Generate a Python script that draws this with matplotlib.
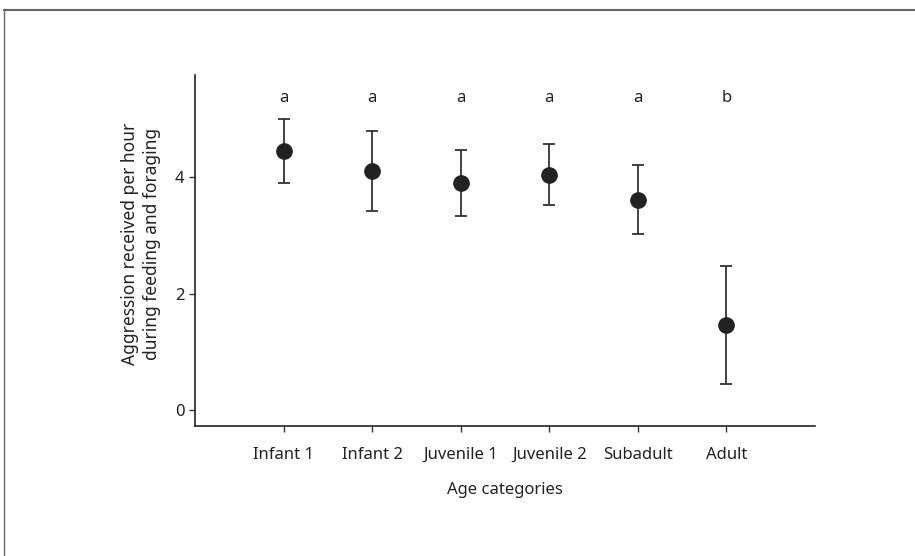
import numpy as np
import matplotlib.pyplot as plt
from matplotlib.lines import Line2D

plt.rcParams['font.family'] = ['Noto Sans', 'DejaVu Sans']

categories = ["Infant 1", "Infant 2", "Juvenile 1", "Juvenile 2", "Subadult", "Adult"]
means = [4.45, 4.11, 3.91, 4.05, 3.62, 1.47]
upper = [5.00, 4.79, 4.48, 4.57, 4.21, 2.48]
lower = [3.90, 3.43, 3.33, 3.53, 3.02, 0.45]
letters = ["a", "a", "a", "a", "a", "b"]

x = np.arange(1, len(categories) + 1)
means = np.array(means)
yerr = [means - np.array(lower), np.array(upper) - means]

fig = plt.figure(figsize=(9.15, 5.56), dpi=100)
ax = fig.add_axes([0.2131, 0.2338, 0.6776, 0.6313])

col = "#222222"
ax.errorbar(x, means, yerr=yerr, fmt='o', color=col, ecolor="#333333",
            markersize=11, capsize=4, elinewidth=1.3, capthick=1.3)

for xi, t in zip(x, letters):
    ax.text(xi, 5.36, t, ha='center', va='center', fontsize=12, color=col)

ax.set_xlim(0, 7)
ax.set_ylim(-0.27, 5.76)
ax.set_xticks(x)
ax.set_xticklabels(categories)
ax.set_yticks([0, 2, 4])
ax.spines['top'].set_visible(False)
ax.spines['right'].set_visible(False)
for s in ['left', 'bottom']:
    ax.spines[s].set_color(col)
    ax.spines[s].set_linewidth(1.2)
ax.tick_params(colors="#333333", labelcolor=col, labelsize=12, length=4, width=1)
ax.tick_params(axis='x', pad=11)

ax.set_xlabel("Age categories", fontsize=12, color=col, labelpad=14)
ax.set_ylabel("Aggression received per hour\nduring feeding and foraging",
              fontsize=12.5, color=col, linespacing=1.25)
ax.yaxis.set_label_coords(-0.055, 0.52)

# outer frame
fig.add_artist(Line2D([0.0044, 1.0], [1 - 9.5 / 556, 1 - 9.5 / 556],
                      transform=fig.transFigure, color="#666666", lw=1.5))
fig.add_artist(Line2D([0.0044, 0.0044], [0.0, 1 - 9.5 / 556],
                      transform=fig.transFigure, color="#666666", lw=1.0))

fig.savefig("out.png", dpi=100)
